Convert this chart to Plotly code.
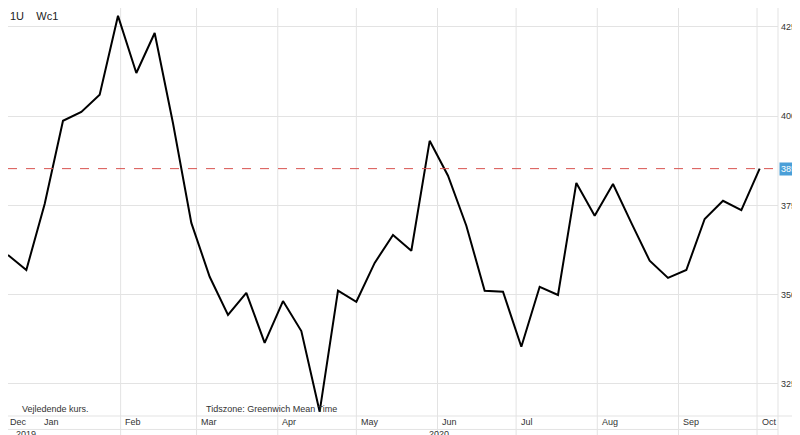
import plotly.graph_objects as go
import pandas as pd

dates = pd.date_range("2019-12-20", periods=42, freq="7D")
values = [361.1, 356.9, 375.4, 398.7, 401.2, 406.0, 428.1, 412.1, 423.3, 398.0,
          370.1, 355.0, 344.3, 350.5, 336.5, 348.2, 339.8, 317.2, 351.1, 348.0,
          358.9, 366.7, 362.3, 393.1, 383.3, 369.3, 351.1, 350.8, 335.4, 352.2,
          349.9, 381.3, 372.1, 381.0, 370.1, 359.5, 354.7, 356.9, 371.2, 376.3,
          373.7, 385.3]
last_value = 385.3
month_starts = ["2020-01-01", "2020-02-01", "2020-03-01", "2020-04-01", "2020-05-01",
                "2020-06-01", "2020-07-01", "2020-08-01", "2020-09-01", "2020-10-01"]
month_labels = ["Jan", "Feb", "Mar", "Apr", "May", "Jun", "Jul", "Aug", "Sep", "Oct"]
y_ticks = [325, 350, 375, 400, 425]

fig = go.Figure()
fig.add_trace(go.Scatter(x=dates, y=values, mode="lines",
                         line=dict(color="black", width=2), hoverinfo="skip"))
fig.add_hline(y=last_value, line=dict(color="#d9534f", width=1, dash="dash"))

ann = []
font = dict(family="Liberation Sans, Arial", size=9, color="#333")
ann.append(dict(x=0, y=1, xref="paper", yref="paper", text="1U    Wc1", showarrow=False,
                xanchor="left", yanchor="top", font=dict(family="Liberation Sans", size=11, color="#222")))
ann.append(dict(x=0.016, y=0.0, xref="paper", yref="paper", text="Vejledende kurs.", showarrow=False,
                xanchor="left", yanchor="bottom", font=font))
ann.append(dict(x=0.255, y=0.0, xref="paper", yref="paper", text="Tidszone: Greenwich Mean Time", showarrow=False,
                xanchor="left", yanchor="bottom", font=font))
ann.append(dict(x=0.0, y=0, xref="paper", yref="paper", text="Dec", showarrow=False,
                xanchor="left", yanchor="top", yshift=1, font=font))
for d, lab in zip(month_starts, month_labels):
    ann.append(dict(x=pd.Timestamp(d) + pd.Timedelta(days=1), y=0, xref="x", yref="paper", text=lab,
                    showarrow=False, xanchor="left", yanchor="top", yshift=1, font=font))
ann.append(dict(x=0.008, y=0, xref="paper", yref="paper", text="2019", showarrow=False,
                xanchor="left", yanchor="top", yshift=-11, font=font))
ann.append(dict(x=pd.Timestamp("2020-05-28"), y=0, xref="x", yref="paper", text="2020", showarrow=False,
                xanchor="left", yanchor="top", yshift=-11, font=font))
ann.append(dict(x=1.0, y=last_value, xref="paper", yref="y", text="385.3", showarrow=False,
                xanchor="left", yanchor="middle", xshift=1, bgcolor="#4a9fd8",
                font=dict(family="Liberation Sans", size=9, color="white"), borderpad=1))

shapes = []
for d in month_starts:
    shapes.append(dict(type="line", xref="x", yref="paper", x0=d, x1=d, y0=-0.06, y1=1,
                       line=dict(color="#e3e3e3", width=1), layer="below"))
shapes.append(dict(type="line", xref="paper", yref="paper", x0=0, x1=1, y0=-0.033, y1=-0.033,
                   line=dict(color="#e3e3e3", width=1)))
shapes.append(dict(type="line", xref="paper", yref="paper", x0=1, x1=1, y0=-0.07, y1=1,
                   line=dict(color="#e3e3e3", width=1)))
shapes.append(dict(type="line", xref="paper", yref="paper", x0=0, x1=1.04, y0=0, y1=0,
                   line=dict(color="#e3e3e3", width=1)))

fig.update_layout(
    width=800, height=435, margin=dict(l=0, r=30, t=0, b=27, autoexpand=False),
    plot_bgcolor="white", paper_bgcolor="white", showlegend=False,
    annotations=ann, shapes=shapes,
    xaxis=dict(range=[pd.Timestamp("2019-12-20"), pd.Timestamp("2020-10-09")],
               showgrid=False, showticklabels=False, zeroline=False, automargin=False),
    yaxis=dict(range=[316.0, 430.3], side="right", tickvals=y_ticks, automargin=False,
               ticktext=[f"{v:.1f}" for v in y_ticks], showgrid=True, gridcolor="#e3e3e3",
               zeroline=False, tickfont=dict(family="Liberation Sans", size=9, color="#333"),
               ticklabelstandoff=2),
)
fig.write_html("out.html")
